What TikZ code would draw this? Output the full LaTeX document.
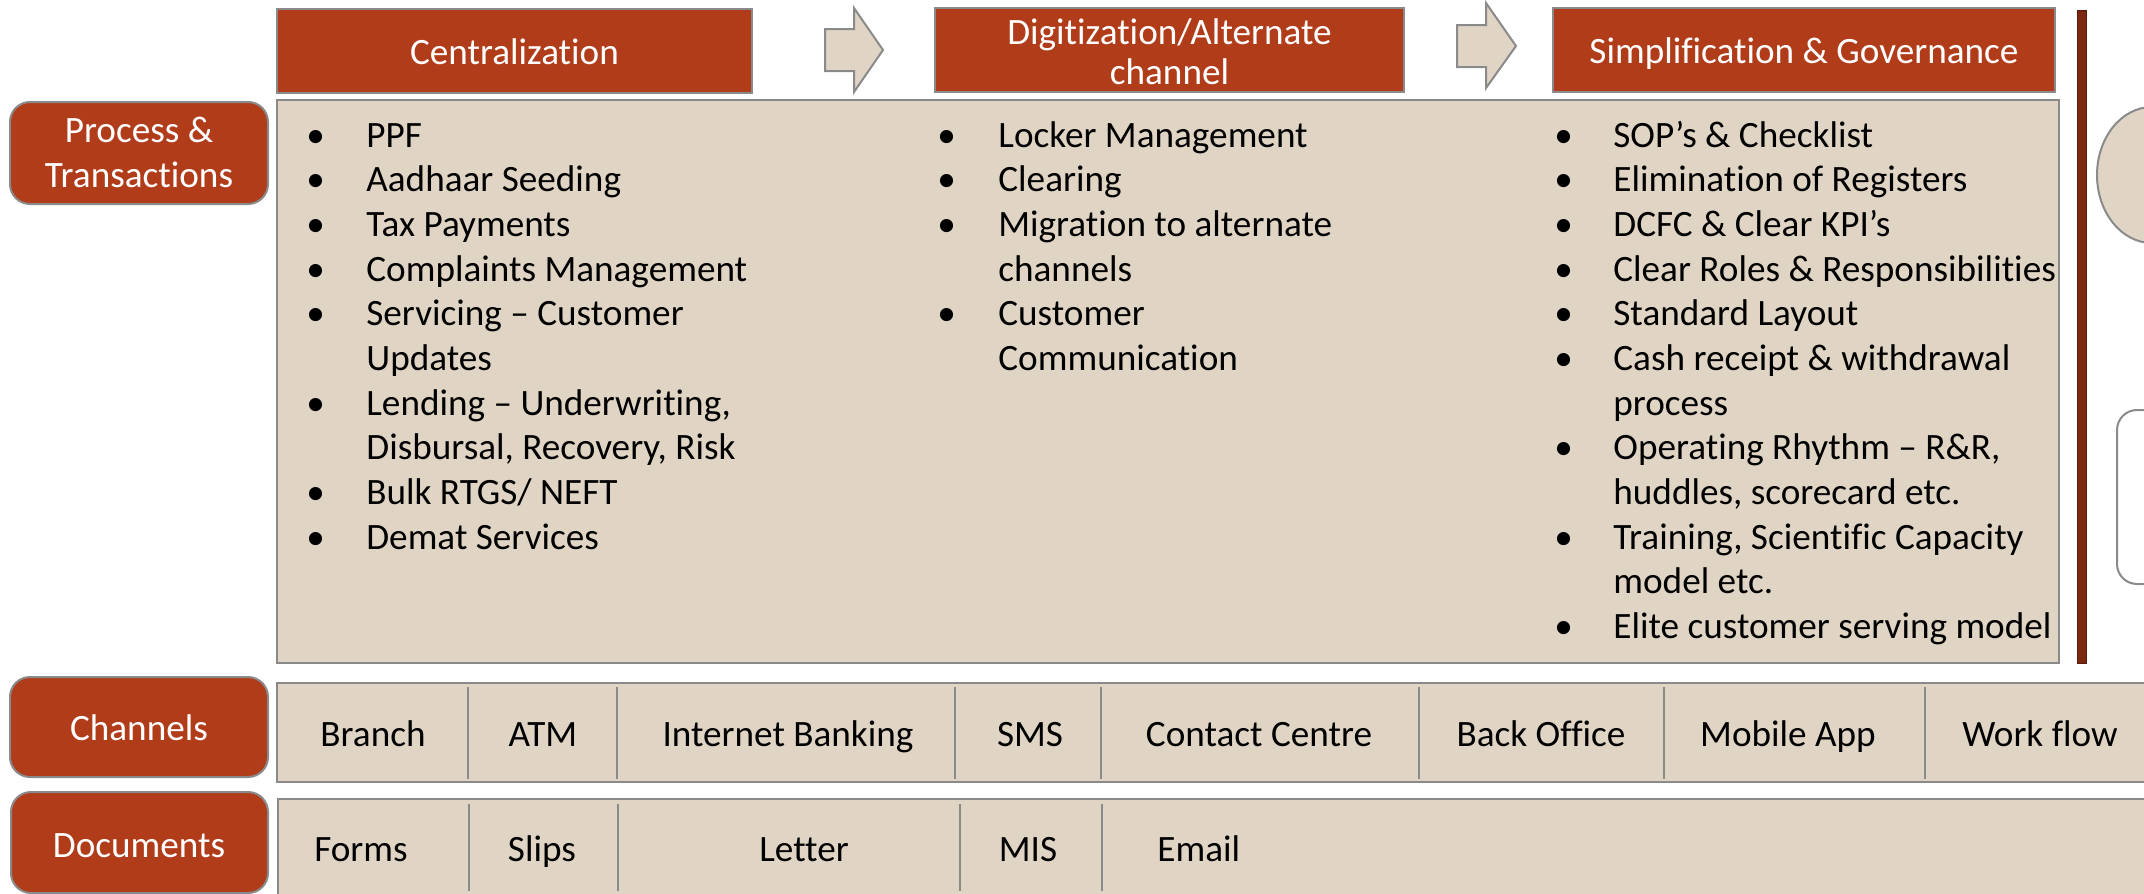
\documentclass[tikz,border=0pt]{standalone}
\usepackage{fontspec}
\setmainfont{Carlito}[Ligatures={NoCommon,NoContextual}]
\definecolor{hdr}{HTML}{B03C1A}
\definecolor{tanfill}{HTML}{E0D5C5}
\definecolor{edgegray}{HTML}{8A8A8A}
\definecolor{barred}{HTML}{7A2812}
\newcommand\myfs{\fontsize{18.6pt}{22.35pt}\selectfont}
\begin{document}
\begin{tikzpicture}[x=0.5pt,y=-0.5pt,
  hdrbox/.style={fill=hdr,draw=edgegray,line width=1pt},
  lblbox/.style={fill=hdr,draw=edgegray,line width=1pt,rounded corners=10pt},
  tanbox/.style={fill=tanfill,draw=edgegray,line width=1.2pt},
  arrowshape/.style={fill=tanfill,draw=edgegray,line width=1pt,line join=miter},
  divider/.style={draw=edgegray,line width=0.7pt},
  wlbl/.style={text=white,font=\myfs,inner sep=0pt},
  btxt/.style={text=black,font=\myfs,inner sep=0pt},
  ]
\useasboundingbox (0,0) rectangle (2144,894);
\clip (0,0) rectangle (2144,894);
\fill[white] (0,0) rectangle (2144,894);

% header boxes
\path[hdrbox] (277,9) rectangle (752,93);
\path[hdrbox] (935,8) rectangle (1404,92);
\path[hdrbox] (1553,8) rectangle (2055,92);
\node[wlbl,anchor=base] (hcent) at (514.5,64) {Centralization};
\node[wlbl,anchor=base] (hdig) at (1169.5,45) {\begin{tabular}[t]{@{}c@{}}Digitization/Alternate\\[-2.35pt]channel\end{tabular}};
\node[wlbl,anchor=base] (hsimp) at (1804,63) {Simplification \& Governance};

% block arrows
\path[arrowshape] (825,29) -- (854,29) -- (854,8) -- (883,50) -- (854,92) -- (854,71) -- (825,71) -- cycle;
\path[arrowshape] (1457,25) -- (1486,25) -- (1486,3) -- (1516,46) -- (1486,88) -- (1486,67) -- (1457,67) -- cycle;

% vertical bar
\path[fill=barred,draw=barred!70!black,line width=0.5pt] (2077,10) rectangle (2086,663);

% right partial shapes
\path[fill=tanfill,draw=edgegray,line width=1pt] (2152,175) ellipse [x radius=55, y radius=68];
\path[fill=white,draw=edgegray,line width=1pt,rounded corners=10pt] (2117,410) rectangle (2200,584);

% main content box
\path[tanbox] (277,100) rectangle (2059,663);

% left labels
\path[lblbox] (10,102) rectangle (268,204);
\path[lblbox] (10,677) rectangle (268,777);
\path[lblbox] (11,792) rectangle (268,893);
\node[wlbl,anchor=base] (lproc) at (139,142) {\begin{tabular}[t]{@{}c@{}}Process \&\\[0.15pt]Transactions\end{tabular}};
\node[wlbl,anchor=base] (lchan) at (139,740) {Channels};
\node[wlbl,anchor=base] (ldoc) at (139,857) {Documents};

% bullet columns
\node[btxt,anchor=base west] (col1) at (306,147) {\begin{tabular}[t]{@{}p{30pt}@{}l@{}}
\textbullet & PPF\\
\textbullet & Aadhaar Seeding\\
\textbullet & Tax Payments\\
\textbullet & Complaints Management\\
\textbullet & Servicing – Customer\\
 & Updates\\
\textbullet & Lending – Underwriting,\\
 & Disbursal, Recovery, Risk\\
\textbullet & Bulk RTGS/ NEFT\\
\textbullet & Demat Services
\end{tabular}};
\node[btxt,anchor=base west] (col2) at (937,147) {\begin{tabular}[t]{@{}p{30.5pt}@{}l@{}}
\textbullet & Locker Management\\
\textbullet & Clearing\\
\textbullet & Migration to alternate\\
 & channels\\
\textbullet & Customer\\
 & Communication
\end{tabular}};
\node[btxt,anchor=base west] (col3) at (1554,147) {\begin{tabular}[t]{@{}p{29.5pt}@{}l@{}}
\textbullet & SOP’s \& Checklist\\
\textbullet & Elimination of Registers\\
\textbullet & DCFC \& Clear KPI’s\\
\textbullet & Clear Roles \& Responsibilities\\
\textbullet & Standard Layout\\
\textbullet & Cash receipt \& withdrawal\\
 & process\\
\textbullet & Operating Rhythm – R\&R,\\
 & huddles, scorecard etc.\\
\textbullet & Training, Scientific Capacity\\
 & model etc.\\
\textbullet & Elite customer serving model
\end{tabular}};

% channels row
\path[tanbox] (277,683) rectangle (2170,782);
\foreach \x in {468,617,955,1101,1419,1664,1925} \draw[divider] (\x,687) -- (\x,779);
\node[btxt,anchor=base] (cbranch) at (373,746) {Branch};
\node[btxt,anchor=base] (catm) at (543,746) {ATM};
\node[btxt,anchor=base] (cinet) at (788,746) {Internet Banking};
\node[btxt,anchor=base] (csms) at (1030,746) {SMS};
\node[btxt,anchor=base] (ccontact) at (1259,746) {Contact Centre};
\node[btxt,anchor=base] (cback) at (1541,746) {Back Office};
\node[btxt,anchor=base] (cmobile) at (1788,746) {Mobile App};
\node[btxt,anchor=base] (cwork) at (2040,746) {Work flow};

% documents row
\path[tanbox] (278,799) rectangle (2170,910);
\foreach \x in {469,618,960,1102} \draw[divider] (\x,804) -- (\x,891);
\node[btxt,anchor=base] (dforms) at (361,861) {Forms};
\node[btxt,anchor=base] (dslips) at (542,861) {Slips};
\node[btxt,anchor=base] (dletter) at (804,861) {Letter};
\node[btxt,anchor=base] (dmis) at (1028,861) {MIS};
\node[btxt,anchor=base west] (demail) at (1157,861) {Email};
\end{tikzpicture}
\end{document}
